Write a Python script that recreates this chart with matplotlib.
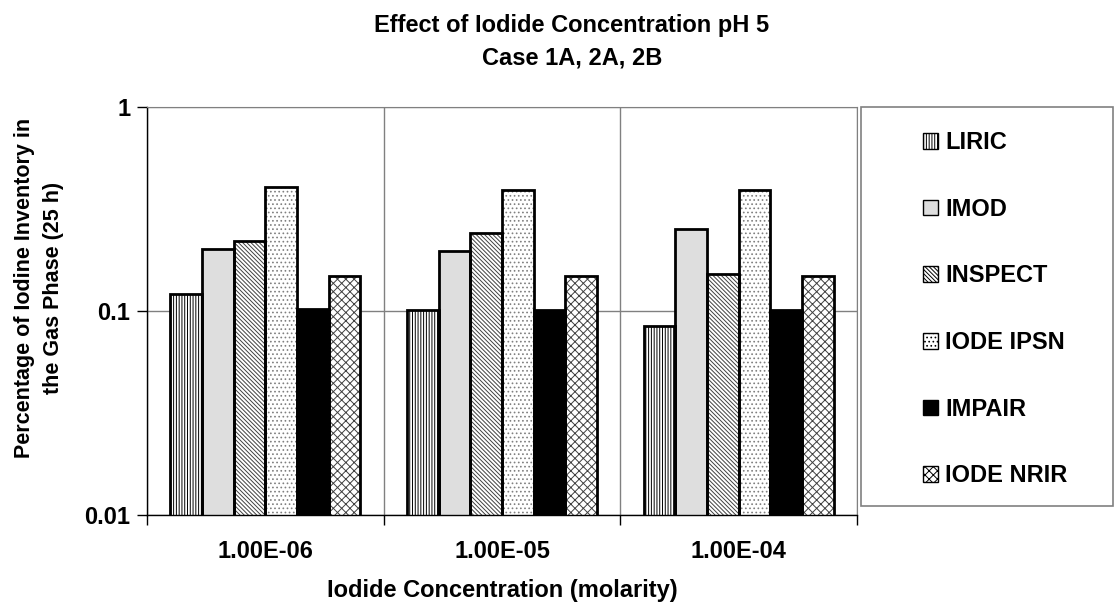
import matplotlib
matplotlib.use('Agg')
import matplotlib.pyplot as plt
import numpy as np
from matplotlib.patches import Patch, Rectangle
from matplotlib.ticker import NullLocator, FixedLocator

plt.rcParams['font.family'] = ['Liberation Sans', 'DejaVu Sans']
plt.rcParams['font.weight'] = 'bold'
plt.rcParams['hatch.linewidth'] = 0.7

concs = ['1.00E-06', '1.00E-05', '1.00E-04']
codes = ['LIRIC', 'IMOD', 'INSPECT', 'IODE IPSN', 'IMPAIR', 'IODE NRIR']
liric = [0.12, 0.10, 0.083]
imod = [0.20, 0.195, 0.25]
inspect = [0.22, 0.24, 0.15]
iode_ipsn = [0.405, 0.39, 0.39]
impair = [0.101, 0.10, 0.10]
iode_nrir = [0.147, 0.147, 0.147]
series = [liric, imod, inspect, iode_ipsn, impair, iode_nrir]

# face colour, hatch, hatch colour
styles = [('white', '||||||', 'black'),
          ('#dedede', '', '#dedede'),
          ('white', '\\\\\\\\\\\\\\\\', '#404040'),
          ('white', '....', '#808080'),
          ('black', '', 'black'),
          ('white', 'xxxx', '#404040')]

W, H = 1116, 603
fig = plt.figure(figsize=(W/100, H/100), dpi=100)
ax = fig.add_axes([147/W, 1-515/H, (857-147)/W, 408/H])
ax.set_yscale('log')
ax.set_ylim(0.01, 1)
ax.set_xlim(-0.5, 2.5)

x = np.arange(len(concs))
w = 0.134
handles = []
for i, (vals, (fc, hatch, hc)) in enumerate(zip(series, styles)):
    xs = x + (i - 2.5)*w
    ax.bar(xs, vals, w, bottom=1e-3, color=fc, edgecolor=hc, hatch=hatch, lw=0, zorder=2)
    ax.bar(xs, vals, w, bottom=1e-3, facecolor='none', edgecolor='black', lw=2, zorder=3)
    handles.append(Patch(facecolor=fc, edgecolor='black', hatch=hatch, lw=1, label=codes[i]))

ax.set_axisbelow(True)
ax.yaxis.set_major_locator(FixedLocator([0.01, 0.1, 1]))
ax.yaxis.set_minor_locator(NullLocator())
ax.set_yticklabels(['0.01', '0.1', '1'])
ax.grid(True, axis='y', which='major', color='#808080', lw=1)
ax.xaxis.set_major_locator(FixedLocator([-0.5, 0.5, 1.5, 2.5]))
ax.xaxis.set_minor_locator(FixedLocator(x))
ax.set_xticklabels([])
ax.set_xticklabels(concs, minor=True)
ax.grid(True, axis='x', which='major', color='#808080', lw=1)
ax.tick_params(axis='y', which='major', direction='out', length=7, width=1, labelsize=17, pad=5)
ax.tick_params(axis='x', which='major', direction='out', length=7, width=1)
ax.tick_params(axis='x', which='minor', length=0, labelsize=17, pad=18)
for s in ['top', 'right']:
    ax.spines[s].set_color('#808080')
for s in ['left', 'bottom']:
    ax.spines[s].set_color('black')
    ax.spines[s].set_linewidth(1)

fig.text(572/W, 1-32/H, 'Effect of Iodide Concentration pH 5', ha='center', va='baseline', fontsize=17)
fig.text(572/W, 1-65/H, 'Case 1A, 2A, 2B', ha='center', va='baseline', fontsize=17)
fig.text(502/W, 1-590/H, 'Iodide Concentration (molarity)', ha='center', va='center', fontsize=17)
fig.text(39/W, 1-288/H, 'Percentage of Iodine Inventory in\nthe Gas Phase (25 h)',
         ha='center', va='center', rotation=90, fontsize=15.5, linespacing=1.5)

fig.patches.append(Rectangle((861/W, 1-506/H), 252/W, 399/H, transform=fig.transFigure,
                             facecolor='white', edgecolor='#808080', lw=1.2))
fig.legend(handles=handles, loc='upper left', bbox_to_anchor=(923/W, 1-131/H),
           frameon=False, fontsize=17, handlelength=0.65, handleheight=0.65,
           handletextpad=0.3, labelspacing=1.85, borderpad=0, borderaxespad=0)

fig.savefig('out.png', dpi=100)
